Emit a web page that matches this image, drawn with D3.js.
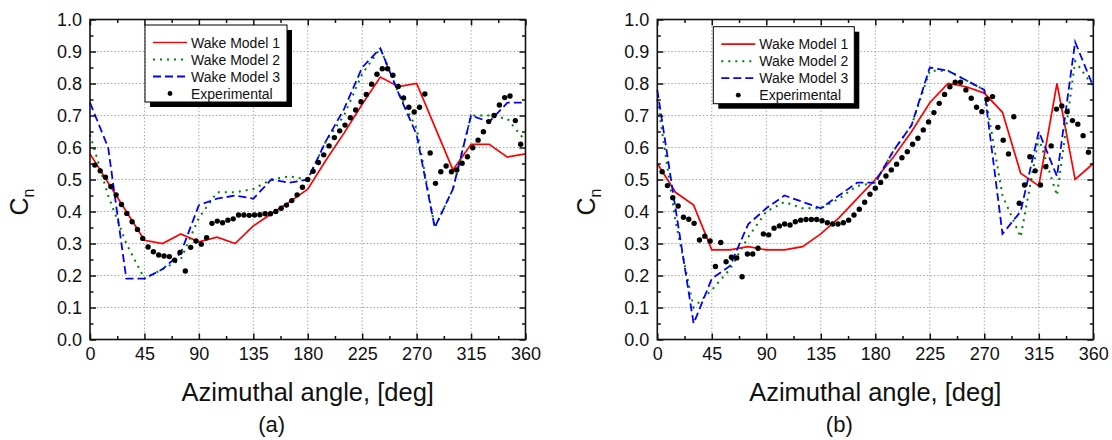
<!DOCTYPE html>
<html>
<head>
<meta charset="utf-8">
<script src="https://cdn.jsdelivr.net/npm/d3@7"></script>
<style>
body { margin: 0; background: #fff; }
svg { display: block; }
text { font-family: "Liberation Sans", Arial, Helvetica, sans-serif; fill: #111; }
</style>
</head>
<body>
<div id="chart"></div>
<script>
// DATA
var modelAngles = [0, 15, 30, 45, 60, 75, 90, 105, 120, 135, 150, 165, 180,
                   195, 210, 225, 240, 255, 270, 285, 300, 315, 330, 345, 360];

// panel (a)
var wake1A = [0.58, 0.49, 0.40, 0.31, 0.30, 0.33, 0.305, 0.32, 0.30, 0.355, 0.393, 0.43, 0.47,
              0.56, 0.645, 0.735, 0.82, 0.79, 0.80, 0.665, 0.53, 0.61, 0.61, 0.57, 0.58];
var wake2A = [0.64, 0.45, 0.30, 0.19, 0.22, 0.25, 0.38, 0.46, 0.46, 0.47, 0.50, 0.51, 0.50,
              0.62, 0.70, 0.83, 0.91, 0.77, 0.66, 0.35, 0.47, 0.70, 0.70, 0.69, 0.62];
var wake3A = [0.74, 0.60, 0.19, 0.19, 0.22, 0.27, 0.42, 0.44, 0.45, 0.44, 0.50, 0.49, 0.50,
              0.62, 0.72, 0.85, 0.91, 0.77, 0.64, 0.35, 0.47, 0.70, 0.68, 0.74, 0.74];

// panel (b)
var wake1B = [0.55, 0.46, 0.42, 0.28, 0.28, 0.29, 0.28, 0.28, 0.29, 0.33, 0.38, 0.44, 0.50,
              0.57, 0.65, 0.74, 0.80, 0.79, 0.77, 0.71, 0.52, 0.48, 0.80, 0.50, 0.55];
var wake2B = [0.75, 0.37, 0.10, 0.155, 0.22, 0.32, 0.40, 0.43, 0.41, 0.41, 0.44, 0.48, 0.49,
              0.59, 0.67, 0.84, 0.84, 0.81, 0.78, 0.45, 0.32, 0.63, 0.45, 0.87, 0.79];
var wake3B = [0.78, 0.41, 0.05, 0.19, 0.23, 0.36, 0.41, 0.45, 0.43, 0.41, 0.45, 0.49, 0.49,
              0.59, 0.67, 0.85, 0.84, 0.81, 0.78, 0.33, 0.40, 0.65, 0.51, 0.93, 0.79];

var expAngles = [4, 8.4, 12.8, 17.2, 21.6, 26, 30.4, 34.8, 39.2, 43.6, 48, 52.4, 56.8, 61.2,
                 65.6, 70, 74.4, 78.8, 83.2, 87.6, 92, 96.4, 100.8, 105.2, 109.6, 114, 118.4,
                 122.8, 127.2, 131.6, 136, 140.4, 144.8, 149.2, 153.6, 158, 162.4, 166.8, 171.2,
                 175.6, 180, 184.4, 188.8, 193.2, 197.6, 202, 206.4, 210.8, 215.2, 219.6, 224,
                 228.4, 232.8, 237.2, 241.6, 246, 250.4, 254.8, 259.2, 263.6, 268, 272.4, 276.8,
                 281.2, 285.6, 290, 294.4, 298.8, 303.2, 307.6, 312, 316.4, 320.8, 325.2, 329.6,
                 334, 338.4, 342.8, 347.2, 351.6, 356];

var expA = [0.545, 0.527, 0.507, 0.478, 0.452, 0.422, 0.394, 0.368, 0.344, 0.316, 0.289, 0.274,
            0.264, 0.261, 0.259, 0.248, 0.272, 0.214, 0.288, 0.308, 0.298, 0.318, 0.363, 0.370,
            0.365, 0.373, 0.377, 0.389, 0.389, 0.388, 0.389, 0.390, 0.393, 0.393, 0.400, 0.410,
            0.420, 0.434, 0.452, 0.476, 0.500, 0.526, 0.553, 0.577, 0.605, 0.631, 0.652, 0.670,
            0.693, 0.717, 0.743, 0.766, 0.798, 0.829, 0.846, 0.846, 0.826, 0.791, 0.755, 0.726,
            0.711, 0.726, 0.767, 0.583, 0.488, 0.524, 0.542, 0.524, 0.530, 0.551, 0.571, 0.599,
            0.623, 0.649, 0.681, 0.700, 0.733, 0.756, 0.761, 0.684, 0.610];

var expB = [0.524, 0.481, 0.443, 0.417, 0.382, 0.376, 0.363, 0.311, 0.323, 0.308, 0.228, 0.303,
            0.243, 0.257, 0.255, 0.196, 0.267, 0.267, 0.285, 0.330, 0.327, 0.348, 0.355, 0.361,
            0.358, 0.368, 0.373, 0.375, 0.375, 0.375, 0.371, 0.365, 0.361, 0.361, 0.365, 0.373,
            0.389, 0.407, 0.429, 0.454, 0.473, 0.491, 0.511, 0.530, 0.548, 0.568, 0.587, 0.610,
            0.629, 0.655, 0.680, 0.709, 0.738, 0.766, 0.790, 0.804, 0.804, 0.780, 0.754, 0.726,
            0.712, 0.751, 0.759, 0.663, 0.623, 0.580, 0.696, 0.426, 0.483, 0.571, 0.527, 0.483,
            0.540, 0.605, 0.720, 0.730, 0.712, 0.684, 0.673, 0.637, 0.585];

var seriesNames = ["Wake Model 1", "Wake Model 2", "Wake Model 3", "Experimental"];
var xTicks = [0, 45, 90, 135, 180, 225, 270, 315, 360];
var yTicks = [0, 0.1, 0.2, 0.3, 0.4, 0.5, 0.6, 0.7, 0.8, 0.9, 1.0];
var xTitle = "Azimuthal angle, [deg]";
var panelLabels = ["(a)", "(b)"];

// line styles for the three models
var styles = [
    { color: "#ff0000", dash: null, width: 1.7 },
    { color: "#008000", dash: "2,5", width: 2 },
    { color: "#0000ff", dash: "8,4", width: 1.8 }
];

var svg = d3.select("#chart")
    .append("svg")
        .attr("width", 1112)
        .attr("height", 440);

svg.append("rect").attr("width", 1112).attr("height", 440).attr("fill", "#fff");

function drawPanel(x0, x1, models, exp, label, leg) {
    var top = 19.5, bottom = 339.5;
    var x = d3.scaleLinear().domain([0, 360]).range([x0, x1]);
    var y = d3.scaleLinear().domain([0, 1]).range([bottom, top]);
    var g = svg.append("g");

    // grid
    g.selectAll(".gx").data(xTicks.slice(1, -1)).enter().append("line")
        .attr("x1", d => x(d)).attr("x2", d => x(d))
        .attr("y1", top).attr("y2", bottom)
        .attr("stroke", "#a8a8a8").attr("stroke-dasharray", "1.5,2");
    g.selectAll(".gy").data(yTicks.slice(1, -1)).enter().append("line")
        .attr("y1", d => y(d)).attr("y2", d => y(d))
        .attr("x1", x0).attr("x2", x1)
        .attr("stroke", "#a8a8a8").attr("stroke-dasharray", "1.5,2");

    // model lines
    var line = d3.line()
        .x(d => x(d[0]))
        .y(d => y(d[1]));
    models.forEach(function(vals, i) {
        var pts = modelAngles.map((a, k) => [a, vals[k]]);
        g.append("path")
            .datum(pts)
            .attr("d", line)
            .attr("fill", "none")
            .attr("stroke", styles[i].color)
            .attr("stroke-width", styles[i].width)
            .attr("stroke-dasharray", styles[i].dash);
    });

    // experimental points
    g.selectAll(".pt").data(expAngles.map((a, k) => [a, exp[k]])).enter()
        .append("circle")
            .attr("cx", d => x(d[0]))
            .attr("cy", d => y(d[1]))
            .attr("r", 2.7)
            .attr("fill", "#000");

    // axes: ticks point inward
    var minorX = d3.range(22.5, 360, 45);
    var minorY = d3.range(0.05, 1, 0.1);
    var fmtY = d3.format(".1f");

    var ax = g.append("g").attr("transform", "translate(0," + bottom + ")")
        .call(d3.axisBottom(x).tickValues(xTicks).tickSize(-6).tickPadding(8).tickFormat(d3.format("d")));
    var axm = g.append("g").attr("transform", "translate(0," + bottom + ")")
        .call(d3.axisBottom(x).tickValues(minorX).tickSize(-3.5).tickFormat(""));
    var at = g.append("g").attr("transform", "translate(0," + top + ")")
        .call(d3.axisTop(x).tickValues(xTicks).tickSize(-6).tickFormat(""));
    var atm = g.append("g").attr("transform", "translate(0," + top + ")")
        .call(d3.axisTop(x).tickValues(minorX).tickSize(-3.5).tickFormat(""));
    var ay = g.append("g").attr("transform", "translate(" + x0 + ",0)")
        .call(d3.axisLeft(y).tickValues(yTicks).tickSize(-6).tickPadding(8).tickFormat(fmtY));
    var aym = g.append("g").attr("transform", "translate(" + x0 + ",0)")
        .call(d3.axisLeft(y).tickValues(minorY).tickSize(-3.5).tickFormat(""));
    var ar = g.append("g").attr("transform", "translate(" + x1 + ",0)")
        .call(d3.axisRight(y).tickValues(yTicks).tickSize(-6).tickFormat(""));
    var arm = g.append("g").attr("transform", "translate(" + x1 + ",0)")
        .call(d3.axisRight(y).tickValues(minorY).tickSize(-3.5).tickFormat(""));

    [ax, axm, at, atm, ay, aym, ar, arm].forEach(function(a) {
        a.select(".domain").remove();
        a.selectAll("line").attr("stroke", "#111").attr("stroke-width", 1.5);
        a.selectAll("text").style("font-size", "18px").attr("fill", "#111")
            .style("font-family", "'Liberation Sans', Arial, sans-serif");
    });

    // frame
    g.append("rect")
        .attr("x", x0).attr("y", top)
        .attr("width", x1 - x0).attr("height", bottom - top)
        .attr("fill", "none").attr("stroke", "#111").attr("stroke-width", 1.6);

    // titles
    var cx = (x0 + x1) / 2;
    g.append("text")
        .attr("x", cx).attr("y", 401)
        .attr("text-anchor", "middle")
        .style("font-size", "25.5px")
        .text(xTitle);
    g.append("text")
        .attr("x", cx - 36).attr("y", 432)
        .attr("text-anchor", "middle")
        .style("font-size", "22px")
        .text(label);

    var cn = g.append("text")
        .attr("transform", "translate(" + (x0 - 62) + ",202) rotate(-90)")
        .attr("text-anchor", "middle")
        .style("font-size", "25px");
    cn.append("tspan").text("C");
    cn.append("tspan").attr("dy", 6).style("font-size", "16px").text("n");

    // legend
    g.append("rect")
        .attr("x", leg.x + 5).attr("y", leg.y + 5)
        .attr("width", leg.w).attr("height", leg.h)
        .attr("fill", "#000");
    g.append("rect")
        .attr("x", leg.x).attr("y", leg.y)
        .attr("width", leg.w).attr("height", leg.h)
        .attr("fill", "#fff").attr("stroke", "#000").attr("stroke-width", 1);

    seriesNames.forEach(function(name, i) {
        var ry = leg.y + 17.5 + i * 17;
        if (i < 3) {
            g.append("line")
                .attr("x1", leg.x + 8).attr("x2", leg.x + 42)
                .attr("y1", ry).attr("y2", ry)
                .attr("stroke", styles[i].color)
                .attr("stroke-width", styles[i].width)
                .attr("stroke-dasharray", styles[i].dash);
        } else {
            g.append("circle")
                .attr("cx", leg.x + 25).attr("cy", ry)
                .attr("r", 2.4).attr("fill", "#000");
        }
        g.append("text")
            .attr("x", leg.x + 46).attr("y", ry + 5)
            .style("font-size", "14px")
            .text(name);
    });
}

drawPanel(90, 525.5, [wake1A, wake2A, wake3A], expA, panelLabels[0],
          { x: 145, y: 25, w: 142, h: 77 });
drawPanel(657.3, 1093.3, [wake1B, wake2B, wake3B], expB, panelLabels[1],
          { x: 713.3, y: 26.7, w: 141, h: 77 });
</script>
</body>
</html>
